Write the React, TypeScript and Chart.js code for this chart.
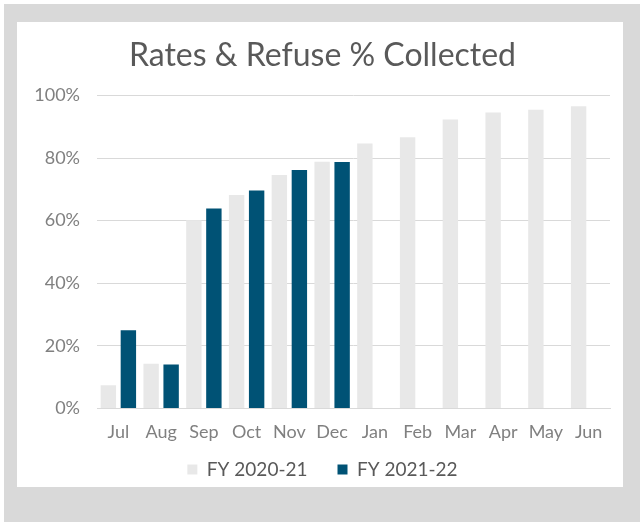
import React, { useEffect, useRef } from "react";
import { Chart, registerables } from "chart.js";

Chart.register(...registerables);

const months = ["Jul", "Aug", "Sep", "Oct", "Nov", "Dec", "Jan", "Feb", "Mar", "Apr", "May", "Jun"];
const fy2020_21 = [7.4, 14.3, 60.1, 68.2, 74.6, 78.8, 84.6, 86.6, 92.3, 94.5, 95.4, 96.5];
const fy2021_22 = [25.0, 14.0, 63.9, 69.6, 76.2, 78.7, null, null, null, null, null, null];
const seriesNames = ["FY 2020-21", "FY 2021-22"];
const titleText = "Rates & Refuse % Collected";

const FONT = "Lato, 'Open Sans', sans-serif";

const LEGEND_SHRINK = 28;
const LEGEND_SHIFT = 26;

// Tightens the vertical space the legend reserves (its label padding also sets horizontal spacing).
const compactLegend = {
  id: "compactLegend",
  beforeLayout(chart: any) {
    const lg = chart.legend;
    if (lg && !lg.__compact) {
      lg.__compact = true;
      const origFit = lg.fit.bind(lg);
      lg.fit = function () {
        origFit();
        this.height = this.height - LEGEND_SHRINK;
      };
      const origDraw = lg.draw.bind(lg);
      lg.draw = function () {
        const t = this.top;
        this.top = t - LEGEND_SHIFT;
        origDraw();
        this.top = t;
      };
    }
  },
};

export default function App() {
  const ref = useRef<HTMLCanvasElement | null>(null);

  useEffect(() => {
    if (!ref.current) return;
    const chart = new Chart(ref.current, {
      type: "bar",
      data: {
        labels: months,
        datasets: [
          {
            label: seriesNames[0],
            data: fy2020_21,
            backgroundColor: "#e8e8e8",
            categoryPercentage: 0.936,
            barPercentage: 0.77,
          },
          {
            label: seriesNames[1],
            data: fy2021_22,
            backgroundColor: "#005275",
            categoryPercentage: 0.936,
            barPercentage: 0.77,
          },
        ],
      },
      plugins: [compactLegend],
      options: {
        animation: false,
        responsive: false,
        maintainAspectRatio: false,
        layout: { padding: { left: 18, right: 13, top: 0, bottom: 0 } },
        plugins: {
          title: {
            display: true,
            text: titleText,
            color: "#595959",
            font: { family: FONT, size: 32, weight: "normal", lineHeight: 1.2 },
            padding: { top: 14, bottom: 21 },
          },
          legend: {
            position: "bottom",
            labels: {
              color: "#595959",
              font: { family: FONT, size: 19 },
              boxWidth: 10,
              boxHeight: 10,
              padding: 30,
            },
          },
          tooltip: { enabled: false },
        },
        scales: {
          x: {
            grid: { display: false, drawTicks: false },
            border: { color: "#d9d9d9", width: 1 },
            ticks: { color: "#808080", font: { family: FONT, size: 18 }, padding: 13 },
          },
          y: {
            min: 0,
            max: 100,
            grid: { color: "#d9d9d9", lineWidth: 1, drawTicks: false },
            border: { display: false },
            afterFit: (scale: any) => {
              scale.width = 62;
            },
            ticks: {
              stepSize: 20,
              color: "#808080",
              font: { family: FONT, size: 18 },
              padding: 17,
              callback: (v: any) => v + "%",
            },
          },
        },
      },
    });
    return () => chart.destroy();
  }, []);

  return (
    <div style={{ position: "fixed", left: 0, top: 0, width: 640, height: 523, background: "#ffffff" }}>
      <div style={{ position: "absolute", left: 4, top: 4, width: 636, height: 518, background: "#d9d9d9" }} />
      <div style={{ position: "absolute", left: 17, top: 22, width: 606, height: 465, background: "#ffffff" }}>
        <canvas ref={ref} width={606} height={465} style={{ display: "block" }} />
      </div>
    </div>
  );
}
